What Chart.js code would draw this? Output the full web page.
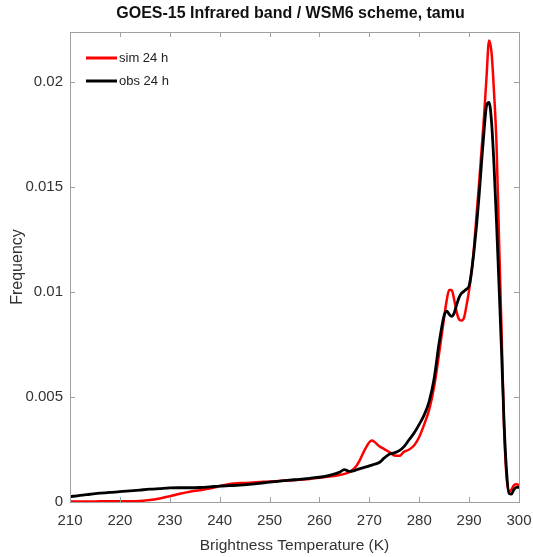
<!DOCTYPE html>
<html>
<head>
<meta charset="utf-8">
<title>GOES-15 Infrared band / WSM6 scheme, tamu</title>
<script src="https://cdn.jsdelivr.net/npm/chart.js@4.4.1/dist/chart.umd.min.js"></script>
<style>
    body { margin: 0; background: #fff; }
    #wrap { width: 533px; height: 557px; }
</style>
</head>
<body>
<div id="wrap"><canvas id="grafico" width="533" height="557"></canvas></div>
<script>
// Datos
const temps = [210, 212, 214, 216, 218, 220, 222, 224, 226, 228, 230, 232, 234, 236, 238, 240, 242, 244, 246, 248,
    250, 252, 254, 256, 258, 260, 262, 264, 265, 266, 267, 268, 269, 270, 270.5, 271, 272, 273, 274, 275,
    276, 277, 278, 279, 280, 281, 282, 283, 284, 285, 285.5, 286, 286.5, 287, 287.5, 288, 288.5, 289, 289.5, 290,
    290.5, 291, 291.5, 292, 292.5, 293, 293.5, 294, 294.5, 295, 295.5, 296, 296.5, 297, 297.5, 298, 298.5, 299, 299.5, 300];

const simFreq = [0.00002, 0.00002, 0.00002, 0.00003, 0.00003, 0.00003, 0.00003, 0.00005, 0.00009, 0.00017,
    0.00027, 0.00039, 0.00049, 0.00056, 0.00064, 0.00076, 0.00086, 0.00090, 0.00092, 0.00095,
    0.00098, 0.00100, 0.00103, 0.00106, 0.00110, 0.00115, 0.00121, 0.00129,
    0.00134, 0.00142, 0.00160, 0.00195, 0.00245, 0.00285, 0.00293,
    0.00287, 0.00266, 0.00252, 0.00238, 0.00222, 0.00220, 0.00240, 0.00250, 0.00270, 0.00310,
    0.00370, 0.00440, 0.00550, 0.00710, 0.00880,
    0.00960, 0.01010, 0.01010, 0.00965, 0.00905, 0.00870, 0.00865, 0.00880, 0.00940, 0.01010,
    0.01100, 0.01220, 0.01370, 0.01520, 0.01680, 0.01840, 0.02030, 0.02200, 0.02140, 0.01950,
    0.01700, 0.01250, 0.00820, 0.00360, 0.00120, 0.00050, 0.00060, 0.00080, 0.00085, 0.00080];

const obsFreq = [0.00025, 0.00032, 0.00037, 0.00042, 0.00046, 0.00049, 0.00053, 0.00057, 0.00061, 0.00064,
    0.00067, 0.00068, 0.00068, 0.00069, 0.00072, 0.00076, 0.00078, 0.00080, 0.00084, 0.00089,
    0.00095, 0.00099, 0.00104, 0.00108, 0.00113, 0.00118, 0.00127, 0.00142,
    0.00154, 0.00146, 0.00150, 0.00158, 0.00165, 0.00172, 0.00176,
    0.00180, 0.00188, 0.00210, 0.00228, 0.00234, 0.00245, 0.00265, 0.00298, 0.00330, 0.00370,
    0.00415, 0.00480, 0.00590, 0.00760, 0.00890,
    0.00910, 0.00895, 0.00885, 0.00900, 0.00940, 0.00975, 0.00995, 0.01005, 0.01015, 0.01030,
    0.01100, 0.01200, 0.01320, 0.01460, 0.01620, 0.01770, 0.01890, 0.01905, 0.01810, 0.01600,
    0.01330, 0.01030, 0.00720, 0.00380, 0.00150, 0.00040, 0.00038, 0.00060, 0.00070, 0.00070];

const xTicks = [210, 220, 230, 240, 250, 260, 270, 280, 290, 300];
const yTicks = [0, 0.005, 0.01, 0.015, 0.02];

const seriesNames = ['sim 24 h', 'obs 24 h'];
const titulo = 'GOES-15 Infrared band / WSM6 scheme, tamu';

document.addEventListener('DOMContentLoaded', () => {

    const fuente = "'Liberation Sans Narrow', 'Liberation Sans', Arial, sans-serif";
    Chart.defaults.font.family = fuente;

    // caja alrededor del área, marcas hacia dentro, título y leyenda
    const cajaPlugin = {
        id: 'caja',
        afterDraw(chart) {
            const ctx = chart.ctx;
            const a = chart.chartArea;
            const sx = chart.scales.x, sy = chart.scales.y;
            ctx.save();
            ctx.strokeStyle = '#a0a0a0';
            ctx.lineWidth = 1;
            ctx.strokeRect(a.left + 0.5, a.top + 0.5, a.right - a.left, a.bottom - a.top);
            ctx.beginPath();
            sx.ticks.forEach(t => {
                const px = Math.round(sx.getPixelForValue(t.value)) + 0.5;
                ctx.moveTo(px, a.bottom); ctx.lineTo(px, a.bottom - 5);
                ctx.moveTo(px, a.top); ctx.lineTo(px, a.top + 5);
            });
            sy.ticks.forEach(t => {
                const py = Math.round(sy.getPixelForValue(t.value)) + 0.5;
                ctx.moveTo(a.left, py); ctx.lineTo(a.left + 5, py);
                ctx.moveTo(a.right, py); ctx.lineTo(a.right - 5, py);
            });
            ctx.stroke();

            // título centrado sobre el área del gráfico
            ctx.fillStyle = '#111';
            ctx.font = 'bold 16px ' + fuente;
            ctx.textAlign = 'center';
            ctx.textBaseline = 'middle';
            ctx.fillText(titulo, (a.left + a.right) / 2 - 4, 14);

            // leyenda dentro del área
            ctx.font = '13px ' + fuente;
            ctx.textAlign = 'left';
            chart.data.datasets.forEach((ds, i) => {
                const y = a.top + 26 + i * 23;
                ctx.strokeStyle = ds.borderColor;
                ctx.lineWidth = 3;
                ctx.beginPath();
                ctx.moveTo(a.left + 16, y);
                ctx.lineTo(a.left + 47, y);
                ctx.stroke();
                ctx.fillStyle = '#222';
                ctx.fillText(ds.label, a.left + 49, y);
            });
            ctx.restore();
        }
    };

    const puntos = serie => temps.map((t, i) => ({ x: t, y: serie[i] }));

    new Chart(document.getElementById('grafico'), {
        type: 'line',
        data: {
            datasets: [{
                label: seriesNames[0],
                data: puntos(simFreq),
                borderColor: '#ff0000',
                borderWidth: 2.5,
                order: 1
            }, {
                label: seriesNames[1],
                data: puntos(obsFreq),
                borderColor: '#000000',
                borderWidth: 2.8,
                order: 0
            }]
        },
        options: {
            responsive: false,
            animation: false,
            layout: { padding: { top: 32, right: 0, left: 0, bottom: 0 } },
            elements: {
                point: { radius: 0 },
                line: { cubicInterpolationMode: 'monotone', fill: false }
            },
            plugins: {
                legend: { display: false },
                tooltip: { enabled: false },
                title: { display: false }
            },
            scales: {
                x: {
                    type: 'linear',
                    min: 210,
                    max: 300,
                    afterFit: s => { s.height = 55; s.paddingRight = 14; },
                    afterBuildTicks: s => { s.ticks = xTicks.map(v => ({ value: v })); },
                    grid: { drawOnChartArea: false, drawTicks: false },
                    border: { color: '#a0a0a0' },
                    ticks: { color: '#333', font: { size: 15 }, padding: 10, maxRotation: 0 },
                    title: {
                        display: true,
                        text: 'Brightness Temperature (K)',
                        color: '#333',
                        font: { size: 15.5 },
                        padding: { top: 0, bottom: 2 }
                    }
                },
                y: {
                    type: 'linear',
                    min: 0,
                    max: 0.0224,
                    afterFit: s => { s.width = 70; },
                    afterBuildTicks: s => { s.ticks = yTicks.map(v => ({ value: v })); },
                    grid: { drawOnChartArea: false, drawTicks: false },
                    border: { color: '#a0a0a0' },
                    ticks: {
                        color: '#333',
                        font: { size: 15 },
                        padding: 7,
                        callback: v => String(+v.toFixed(4))
                    },
                    title: {
                        display: true,
                        text: 'Frequency',
                        color: '#333',
                        font: { size: 16 },
                        padding: { top: 8, bottom: 0 }
                    }
                }
            }
        },
        plugins: [cajaPlugin]
    });
});
</script>
</body>
</html>
